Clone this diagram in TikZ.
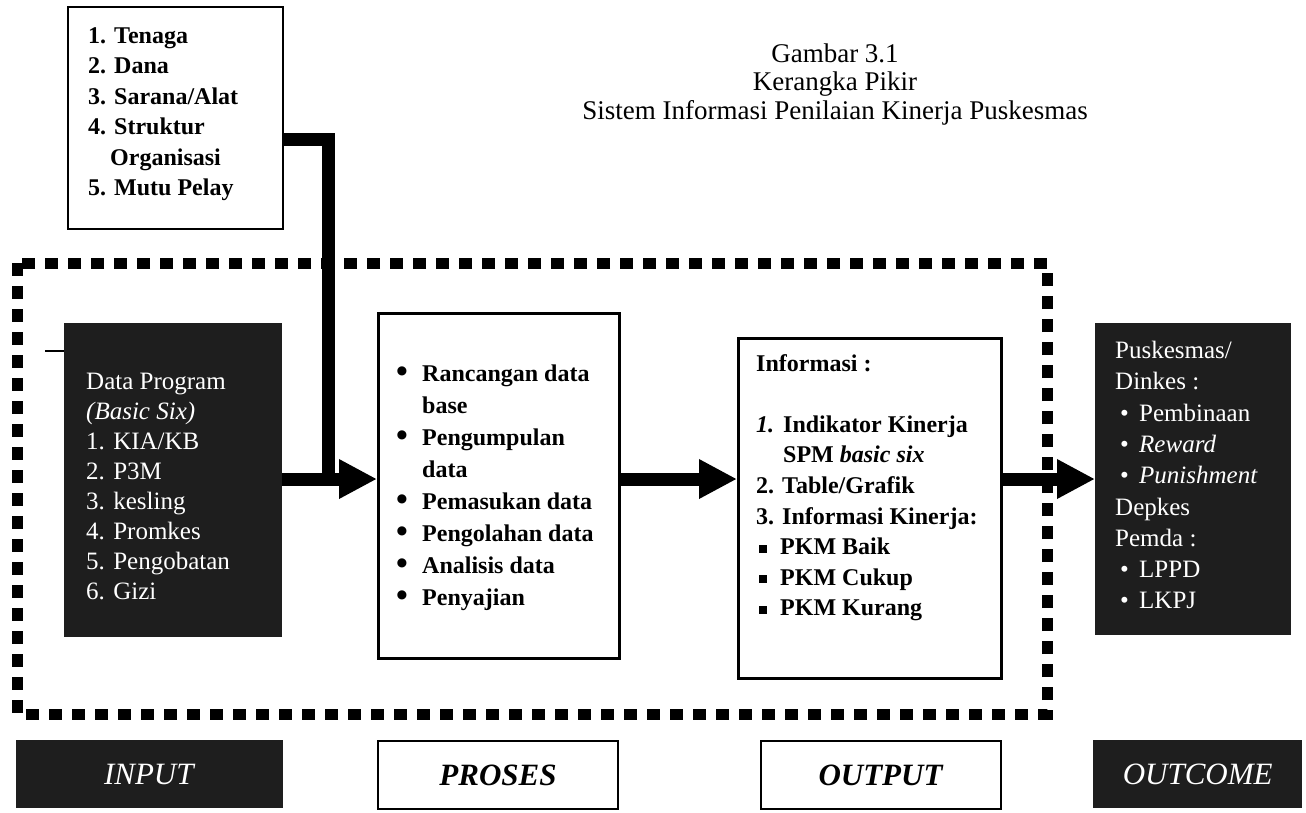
\documentclass[tikz,border=0pt]{standalone}
\usepackage{fontspec}
\usepackage{graphicx}
\setmainfont{Liberation Serif}
\usetikzlibrary{arrows.meta}
\definecolor{ink}{HTML}{1E1E1E}
% left-aligned stack of lines whose baseline is the first line
\newcommand\boxlines[1]{\begin{tabular}[t]{@{}l@{}}#1\end{tabular}}
\newcommand\blt{\makebox[26pt][l]{\raisebox{-1pt}{\scalebox{1.4}{\textbullet}}}}
\newcommand\sqblt{\hspace*{3pt}\makebox[21pt][l]{\rule[2pt]{8pt}{8pt}}}
\newcommand\wblt{\hspace*{5pt}\makebox[19pt][l]{\textbullet}}

\begin{document}
\begin{tikzpicture}[x=1pt,y=-1pt,
  panel/.style={draw=black, line width=2pt, fill=white, inner sep=0pt, anchor=north west},
  darkpanel/.style={fill=ink, draw=none, inner sep=0pt, anchor=north west},
  txt/.style={inner sep=0pt, anchor=base west},
  flow/.style={line width=13pt, -{Triangle[length=38pt,width=37pt]}},
  feed/.style={line width=13pt, line join=miter},
  dashframe/.style={line width=11pt, dash pattern=on 13pt off 10pt},
  footer/.style={inner sep=0pt, anchor=north west, minimum height=68pt,
                 font=\fontsize{31}{34}\selectfont}
]
\useasboundingbox (0,0) rectangle (1306,812);

% system boundary
\draw[dashframe] (17,263) rectangle (1047,714);

% title
\node[inner sep=0pt, anchor=base] (title) at (835,62)
  {\fontsize{27}{28.5}\selectfont\begin{tabular}[t]{@{}c@{}}Gambar 3.1\\Kerangka Pikir\\Sistem Informasi Penilaian Kinerja Puskesmas\end{tabular}};

% resources box
\node[panel, minimum width=215pt, minimum height=222pt] (res) at (67,6) {};
\node[txt, font=\bfseries\fontsize{24}{30.5}\selectfont] (restext) at (88,43)
  {\boxlines{1. Tenaga\\2. Dana\\3. Sarana/Alat\\4. Struktur\\\hspace*{22pt}Organisasi\\5. Mutu Pelay}};

% input
\node[darkpanel, minimum width=218pt, minimum height=314pt] (input) at (64,323) {};
\node[txt, text=white, font=\fontsize{25}{30}\selectfont] (inputtext) at (86,389.5)
  {\boxlines{Data Program\\\textit{(Basic Six)}\\1. KIA/KB\\2. P3M\\3. kesling\\4. Promkes\\5. Pengobatan\\6. Gizi}};
\coordinate (stub) at (45,351);
\draw[line width=2.5pt] (stub) -- (stub -| input.west);

% process
\node[panel, line width=2.5pt, minimum width=241pt, minimum height=345pt] (proses) at (377,312) {};
\node[txt, font=\bfseries\fontsize{24}{32}\selectfont] (prosestext) at (396,381)
  {\boxlines{\blt Rancangan data\\\hspace*{26pt}base\\\blt Pengumpulan\\\hspace*{26pt}data\\\blt Pemasukan data\\\blt Pengolahan data\\\blt Analisis data\\\blt Penyajian}};

% output
\node[panel, line width=2.5pt, minimum width=263pt, minimum height=340pt] (output) at (737,337) {};
\node[txt, font=\bfseries\fontsize{24}{30.6}\selectfont] (outputtext) at (756,371)
  {\boxlines{Informasi :\\ \\\makebox[27pt][l]{\textit{1.}}Indikator Kinerja\\\hspace*{27pt}SPM \textit{basic six}\\2. Table/Grafik\\3. Informasi Kinerja:\\\sqblt PKM Baik\\\sqblt PKM Cukup\\\sqblt PKM Kurang}};

% outcome
\node[darkpanel, minimum width=196pt, minimum height=312pt] (outcome) at (1095,323) {};
\node[txt, text=white, font=\fontsize{25}{31.3}\selectfont] (outcometext) at (1115,358.5)
  {\boxlines{Puskesmas/\\Dinkes :\\\wblt Pembinaan\\\wblt\textit{Reward}\\\wblt\textit{Punishment}\\Depkes\\Pemda :\\\wblt LPPD\\\wblt LKPJ}};

% connectors
\coordinate (join) at (328,479);
\coordinate (resrow) at (300,139);
\draw[feed] (res.east |- resrow) -| (join);
\draw[flow] (input.east |- join) -- (proses.west |- join);
\draw[flow] (proses.east |- join) -- (output.west |- join);
\draw[flow] (output.east |- join) -- (outcome.west |- join);

% stage labels
\node[footer, fill=ink, text=white, minimum width=267pt] (lin) at (16,740) {\textit{INPUT}};
\node[footer, draw=black, line width=2pt, fill=white, minimum width=240pt] (lpro) at (377,740) {\textbf{\textit{PROSES}}};
\node[footer, draw=black, line width=2pt, fill=white, minimum width=240pt] (lout) at (760,740) {\textbf{\textit{OUTPUT}}};
\node[footer, fill=ink, text=white, minimum width=209pt] (lcome) at (1093,740) {\textit{OUTCOME}};
\end{tikzpicture}
\end{document}
